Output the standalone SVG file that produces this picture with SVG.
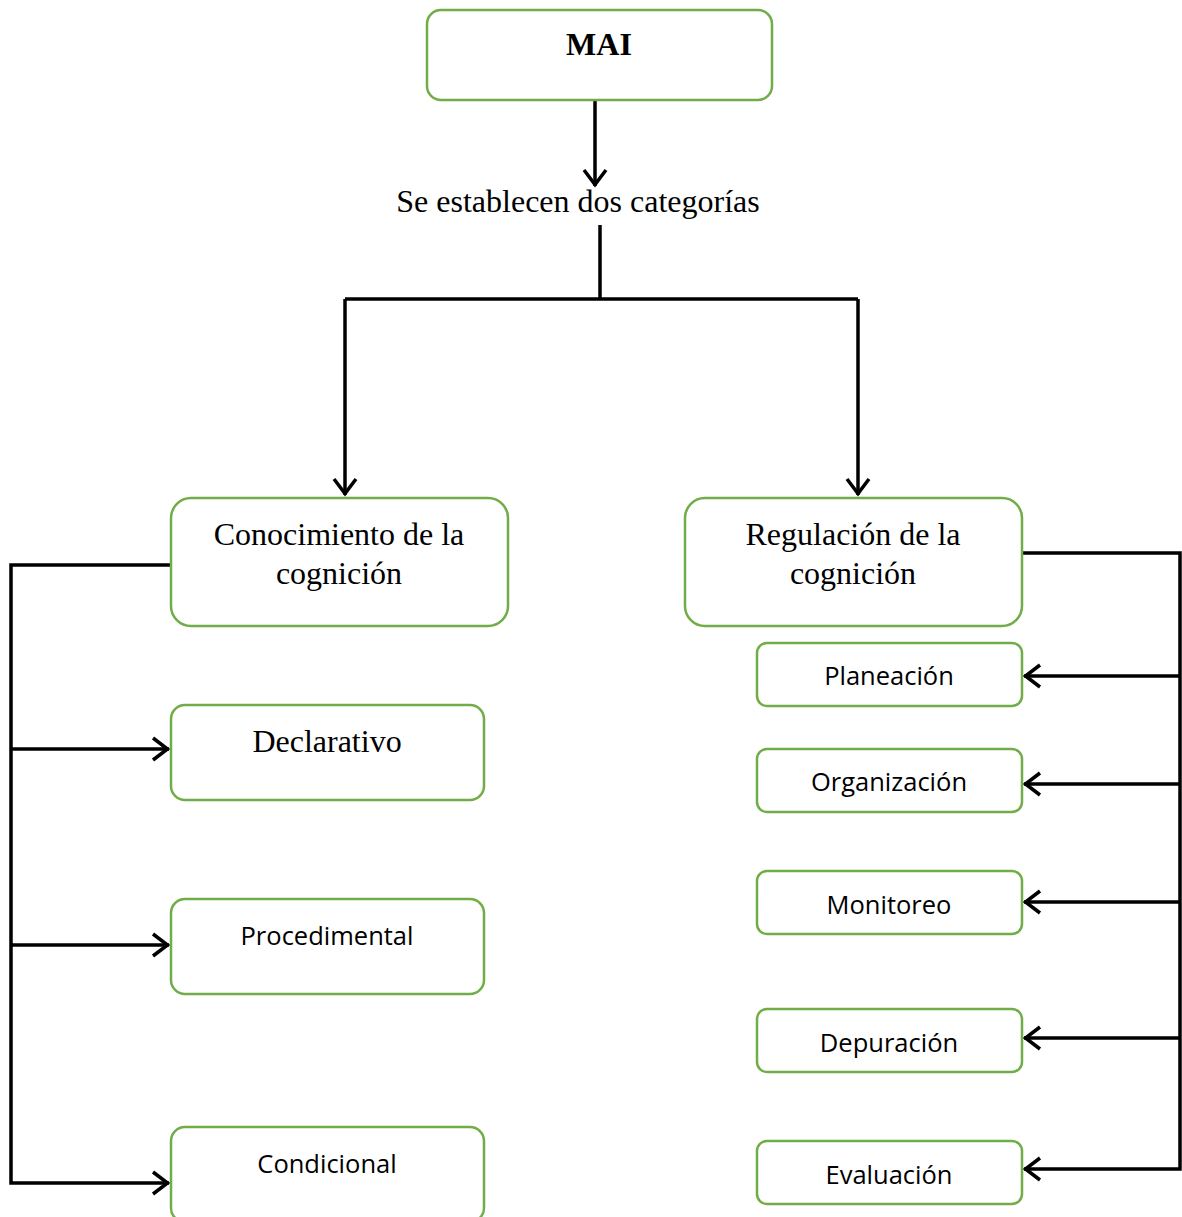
<svg xmlns="http://www.w3.org/2000/svg" width="1182" height="1217" viewBox="0 0 1182 1217">
<style>
.box{fill:#fff;stroke:#70AD47;stroke-width:2.5}
.serif{font-family:"Liberation Serif","Times New Roman",serif;fill:#000;font-size:32px}
.sans{font-family:"Open Sans","Noto Sans",sans-serif;fill:#000;font-size:25.5px}
.ln{fill:none;stroke:#000;stroke-width:3.5}
</style>
<defs>
<marker id="ah" markerUnits="userSpaceOnUse" markerWidth="30" markerHeight="30" viewBox="-20 -15 24 30" refX="0" refY="0" orient="auto">
<path d="M-16,-11 L-1.5,0 L-16,11" fill="none" stroke="#000" stroke-width="3.5"/>
</marker>
</defs>
<g id="connectors">
<path class="ln" d="M595,100 V186" marker-end="url(#ah)"/>
<path class="ln" d="M600,225 V299"/>
<path class="ln" d="M345,299 H858"/>
<path class="ln" d="M345,299 V495" marker-end="url(#ah)"/>
<path class="ln" d="M858,299 V495" marker-end="url(#ah)"/>
<path class="ln" d="M171,565 H11 V1183 H169" marker-end="url(#ah)"/>
<path class="ln" d="M11,749 H169" marker-end="url(#ah)"/>
<path class="ln" d="M11,945 H169" marker-end="url(#ah)"/>
<path class="ln" d="M1022,553 H1180 V1169 H1024" marker-end="url(#ah)"/>
<path class="ln" d="M1180,676 H1024" marker-end="url(#ah)"/>
<path class="ln" d="M1180,784 H1024" marker-end="url(#ah)"/>
<path class="ln" d="M1180,902 H1024" marker-end="url(#ah)"/>
<path class="ln" d="M1180,1038 H1024" marker-end="url(#ah)"/>
</g>
<g id="mai">
<rect class="box" x="427" y="10" width="345" height="90" rx="14"/>
<text class="serif" x="599" y="55" font-weight="bold" text-anchor="middle">MAI</text>
</g>
<g id="label">
<text class="serif" x="578" y="212" text-anchor="middle">Se establecen dos categorías</text>
</g>
<g id="conocimiento">
<rect class="box" x="171" y="498" width="337" height="128" rx="20"/>
<text class="serif" x="339" y="545" text-anchor="middle">Conocimiento de la</text>
<text class="serif" x="339" y="584" text-anchor="middle">cognición</text>
</g>
<g id="regulacion">
<rect class="box" x="685" y="498" width="337" height="128" rx="20"/>
<text class="serif" x="853" y="545" text-anchor="middle">Regulación de la</text>
<text class="serif" x="853" y="584" text-anchor="middle">cognición</text>
</g>
<g id="declarativo">
<rect class="box" x="171" y="705" width="313" height="95" rx="14"/>
<text class="serif" x="327" y="752" text-anchor="middle">Declarativo</text>
</g>
<g id="procedimental">
<rect class="box" x="171" y="899" width="313" height="95" rx="14"/>
<text class="sans" x="327" y="945" text-anchor="middle">Procedimental</text>
</g>
<g id="condicional">
<rect class="box" x="171" y="1127" width="313" height="95" rx="14"/>
<text class="sans" x="327" y="1173" text-anchor="middle">Condicional</text>
</g>
<g id="planeacion">
<rect class="box" x="757" y="643" width="265" height="63" rx="10"/>
<text class="sans" x="889" y="685" text-anchor="middle">Planeación</text>
</g>
<g id="organizacion">
<rect class="box" x="757" y="749" width="265" height="63" rx="10"/>
<text class="sans" x="889" y="791" text-anchor="middle">Organización</text>
</g>
<g id="monitoreo">
<rect class="box" x="757" y="871" width="265" height="63" rx="10"/>
<text class="sans" x="889" y="914" text-anchor="middle">Monitoreo</text>
</g>
<g id="depuracion">
<rect class="box" x="757" y="1009" width="265" height="63" rx="10"/>
<text class="sans" x="889" y="1052" text-anchor="middle">Depuración</text>
</g>
<g id="evaluacion">
<rect class="box" x="757" y="1141" width="265" height="63" rx="10"/>
<text class="sans" x="889" y="1184" text-anchor="middle">Evaluación</text>
</g>
</svg>
